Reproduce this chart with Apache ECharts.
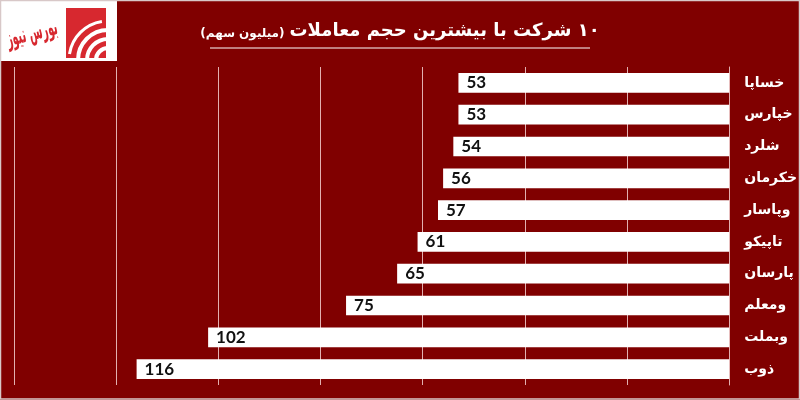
<!DOCTYPE html>
<html>
<head>
<meta charset="utf-8">
<script src="https://cdn.jsdelivr.net/npm/echarts@6/dist/echarts.min.js"></script>
<style>
html,body{margin:0;padding:0;background:#800000;}
#chart{width:800px;height:400px;}
</style>
</head>
<body>
<div id="chart"></div>
<script>
const categories = ['خساپا','خپارس','شلرد','خکرمان','وپاسار','تاپیکو','پارسان','ومعلم','وبملت','ذوب'];
const values = [53, 53, 54, 56, 57, 61, 65, 75, 102, 116];
const titleMain = '\u200F۱۰ شرکت با بیشترین حجم معاملات';
const titleSub = '(میلیون سهم)';
const logoText = 'بورس نیوز';

const chart = echarts.init(document.getElementById('chart'));
const gridColor = '#e2b0b0';
chart.setOption({
  backgroundColor: '#800000',
  animation: false,
  title: {
    text: '{s|' + titleSub + '} {b|' + titleMain + '}',
    left: 'center',
    top: 17,
    textStyle: {
      rich: {
        b: { color: '#fff', fontSize: 18, fontWeight: 'bold', fontFamily: 'DejaVu Sans' },
        s: { color: '#fff', fontSize: 12, fontWeight: 'bold', fontFamily: 'DejaVu Sans', padding: [5, 0, 0, 0] }
      }
    }
  },
  grid: { left: 14, right: 70, top: 67, bottom: 15, containLabel: false },
  xAxis: {
    type: 'value', inverse: true, min: 0, max: 140, interval: 20,
    axisLabel: { show: false }, axisLine: { show: false }, axisTick: { show: false },
    splitLine: { show: true, lineStyle: { color: gridColor, width: 1 } }
  },
  yAxis: {
    type: 'category', data: categories, inverse: true, position: 'right',
    axisTick: { show: false },
    axisLine: { show: true, lineStyle: { color: gridColor, width: 1 } },
    axisLabel: { color: '#fff', fontSize: 14, fontWeight: 'bold', fontFamily: 'DejaVu Sans', margin: 15 }
  },
  series: [{
    type: 'bar', data: values, barCategoryGap: '38%',
    itemStyle: { color: '#ffffff' },
    label: {
      show: true, position: 'insideLeft', distance: 8,
      color: '#111', fontSize: 17, fontWeight: 'bold', fontFamily: 'Lato'
    }
  }],
  graphic: [
    { type: 'rect', shape: { x: 0.5, y: 0.5, width: 799, height: 398.5 }, style: { fill: null, stroke: '#d8c8c8', lineWidth: 1.5 }, z: 100 },
    { type: 'rect', shape: { x: 1, y: 1, width: 116, height: 60 }, style: { fill: '#ffffff' }, z: 10 },
    { type: 'rect', shape: { x: 66, y: 8, width: 40, height: 50 }, style: { fill: '#d7282f' }, z: 11 },
    { type: 'arc', shape: { cx: 108, cy: 60, r: 12, startAngle: Math.PI, endAngle: Math.PI * 1.5 }, style: { stroke: '#fff', lineWidth: 4, fill: null }, z: 12 },
    { type: 'arc', shape: { cx: 108, cy: 60, r: 21, startAngle: Math.PI, endAngle: Math.PI * 1.5 }, style: { stroke: '#fff', lineWidth: 4, fill: null }, z: 12 },
    { type: 'arc', shape: { cx: 108, cy: 60, r: 30, startAngle: Math.PI, endAngle: Math.PI * 1.5 }, style: { stroke: '#fff', lineWidth: 4, fill: null }, z: 12 },
    { type: 'arc', shape: { cx: 108, cy: 60, r: 39, startAngle: Math.PI * 1.05, endAngle: Math.PI * 1.45 }, style: { stroke: '#fff', lineWidth: 3, fill: null }, z: 12 },
    { type: 'text', x: 32, y: 34, rotation: 0.25, scaleX: 0.7, scaleY: 1.7, style: { text: logoText, fill: '#d7282f', font: 'bold 14px "DejaVu Sans"', textAlign: 'center', textVerticalAlign: 'middle' }, z: 12 },
    { type: 'line', shape: { x1: 210, y1: 48, x2: 590, y2: 48 }, style: { stroke: '#ffffff', lineWidth: 1 }, z: 12 }
  ]
});
</script>
</body>
</html>
